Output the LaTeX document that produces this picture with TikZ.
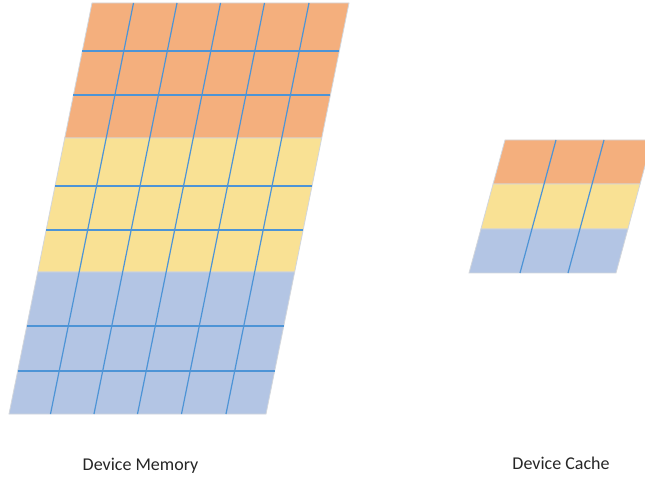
\documentclass[tikz,border=0pt]{standalone}
\usepackage{fontspec}
\setmainfont{Carlito}
\definecolor{orng}{HTML}{F4AF7D}
\definecolor{yllw}{HTML}{F9E194}
\definecolor{blu}{HTML}{B3C5E4}
\definecolor{lineblue}{HTML}{4D94D6}
\definecolor{edgegray}{HTML}{D2D6DC}
\begin{document}
\begin{tikzpicture}[x=1pt,y=-1pt,
  declare function={mx(\y)=92-(\y-3)*0.20195; cx(\y)=505-(\y-140)*0.27068;},
  gridline/.style={draw=lineblue, line width=1.2pt},
  blockedge/.style={draw=edgegray, line width=0.8pt},
  label/.style={font=\fontsize{18}{21}\selectfont, text=black!85, inner sep=0pt}]
\useasboundingbox (0,0) rectangle (645,478);
\begin{scope}
\clip (0,0) rectangle (645,478);
% Device memory
\foreach \ya/\yb/\c in {3/138/orng,138/272/yllw,272/414/blu}{
  \filldraw[fill=\c, blockedge] ({mx(\ya)},\ya) -- ({mx(\ya)+257},\ya) -- ({mx(\yb)+257},\yb) -- ({mx(\yb)},\yb) -- cycle;
}
\foreach \y in {51,95,186,230,326,371}
  \draw[gridline] ({mx(\y)},\y) -- ({mx(\y)+257},\y);
\foreach \o in {41.5,85,128.5,172.5,217}
  \draw[gridline] ({mx(3)+\o},3) -- ({mx(414)+\o},414);
% Device cache
\foreach \ya/\yb/\c in {140/184/orng,184/229/yllw,229/273/blu}{
  \filldraw[fill=\c, blockedge] ({cx(\ya)},\ya) -- ({cx(\ya)+147},\ya) -- ({cx(\yb)+147},\yb) -- ({cx(\yb)},\yb) -- cycle;
}
\foreach \o in {51,99}
  \draw[gridline] ({cx(140)+\o},140) -- ({cx(273)+\o},273);
\end{scope}
\node[label] (memlabel) at (140.5,466) {Device Memory};
\node[label] (cachelabel) at (561,463) {Device Cache};
\end{tikzpicture}
\end{document}
